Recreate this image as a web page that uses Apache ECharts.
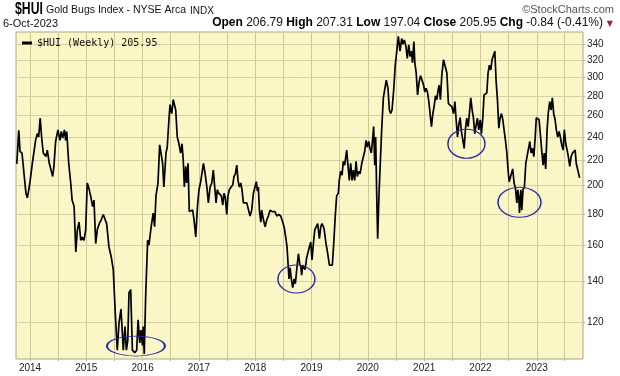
<!DOCTYPE html>
<html>
<head>
<meta charset="utf-8">
<script src="https://cdn.jsdelivr.net/npm/echarts@6/dist/echarts.min.js"></script>
<style>
  html, body { margin: 0; padding: 0; background: #fff; }
  #chart { width: 620px; height: 376px; }
</style>
</head>
<body>
<div id="chart"></div>
<script>
// weekly closes (approximate)
const dates = [
  '2013-10-07','2013-10-20','2013-10-28','2013-11-10','2013-11-23','2013-11-30','2013-12-06','2013-12-15','2013-12-24',
  '2014-01-01','2014-01-16','2014-01-27','2014-02-06','2014-02-17','2014-02-26','2014-03-08','2014-03-17','2014-03-28',
  '2014-04-06','2014-04-14','2014-04-23','2014-05-06','2014-05-15','2014-05-28','2014-06-05','2014-06-16','2014-07-01',
  '2014-07-14','2014-07-23','2014-08-01','2014-08-12','2014-08-20','2014-08-27','2014-09-09','2014-09-22','2014-10-01',
  '2014-10-14','2014-10-25','2014-11-04','2014-11-15','2014-11-26','2014-12-06','2014-12-17','2014-12-28',
  '2015-01-07','2015-01-18','2015-01-29','2015-02-11','2015-02-20','2015-03-03','2015-03-13','2015-03-26','2015-04-08',
  '2015-04-21','2015-04-30','2015-05-13','2015-05-28','2015-06-12','2015-06-25','2015-07-08','2015-07-21','2015-08-01',
  '2015-08-14','2015-08-29','2015-09-09','2015-09-18','2015-09-27','2015-10-05','2015-10-16','2015-10-27','2015-11-11',
  '2015-11-24','2015-12-03','2015-12-14','2015-12-22','2015-12-31',
  '2016-01-05','2016-01-12','2016-01-21','2016-02-03','2016-02-11','2016-02-26','2016-03-10','2016-03-19','2016-03-28',
  '2016-04-10','2016-04-21','2016-05-02','2016-05-10','2016-05-18','2016-06-01','2016-06-09','2016-06-20','2016-06-27',
  '2016-07-08','2016-07-18','2016-07-27','2016-08-03','2016-08-13','2016-08-24','2016-09-04','2016-09-13','2016-09-21',
  '2016-09-28','2016-10-07','2016-10-13','2016-10-22','2016-10-30','2016-11-10','2016-11-21','2016-11-30','2016-12-11',
  '2016-12-22',
  '2017-01-01','2017-01-12','2017-01-19','2017-01-30','2017-02-10','2017-02-21','2017-03-03','2017-03-14','2017-03-25',
  '2017-04-04','2017-04-13','2017-04-22','2017-04-30','2017-05-09','2017-05-18','2017-05-26','2017-06-04','2017-06-13',
  '2017-06-21','2017-06-30','2017-07-08','2017-07-17','2017-07-28','2017-08-08','2017-08-16','2017-08-25','2017-09-03',
  '2017-09-11','2017-09-20','2017-09-29','2017-10-07','2017-10-16','2017-10-27','2017-11-07','2017-11-17','2017-11-28',
  '2017-12-09','2017-12-20','2017-12-30',
  '2018-01-08','2018-01-15','2018-01-21','2018-01-28','2018-02-06','2018-02-12','2018-02-23','2018-03-06','2018-03-17',
  '2018-03-27','2018-04-07','2018-04-20','2018-04-28','2018-05-09','2018-05-20','2018-06-02','2018-06-15','2018-06-28',
  '2018-07-09','2018-07-19','2018-07-26','2018-08-02','2018-08-08','2018-08-15','2018-08-23','2018-09-01','2018-09-10',
  '2018-09-18','2018-09-27','2018-10-08','2018-10-17','2018-10-24','2018-10-29','2018-11-05','2018-11-09','2018-11-20',
  '2018-12-01','2018-12-10','2018-12-18','2018-12-27',
  '2019-01-04','2019-01-13','2019-01-22','2019-01-30','2019-02-10','2019-02-21','2019-03-02','2019-03-10','2019-03-23',
  '2019-04-05','2019-04-16','2019-04-27','2019-05-08','2019-05-16','2019-05-25','2019-06-04','2019-06-13','2019-06-24',
  '2019-06-30','2019-07-09','2019-07-18','2019-07-26','2019-08-04','2019-08-17','2019-08-26','2019-09-03','2019-09-12',
  '2019-09-21','2019-09-29','2019-10-08','2019-10-17','2019-10-25','2019-11-03','2019-11-12','2019-11-23','2019-12-03',
  '2019-12-12','2019-12-21','2019-12-29',
  '2020-01-07','2020-01-15','2020-01-24','2020-02-02','2020-02-08','2020-02-15','2020-02-21','2020-02-28','2020-03-05',
  '2020-03-14','2020-03-22','2020-03-31','2020-04-11','2020-04-20','2020-04-30','2020-05-11','2020-05-20','2020-05-28',
  '2020-06-06','2020-06-17','2020-06-27','2020-07-08','2020-07-17','2020-07-28','2020-08-08','2020-08-16','2020-08-25',
  '2020-09-05','2020-09-13','2020-09-23','2020-10-01','2020-10-10','2020-10-17','2020-10-26','2020-11-01','2020-11-10',
  '2020-11-19','2020-11-28','2020-12-08','2020-12-19','2020-12-28',
  '2021-01-05','2021-01-13','2021-01-22','2021-01-31','2021-02-08','2021-02-17','2021-02-26','2021-03-06','2021-03-15',
  '2021-03-24','2021-04-01','2021-04-08','2021-04-16','2021-04-25','2021-05-06','2021-05-17','2021-05-28','2021-06-07',
  '2021-06-18','2021-06-29','2021-07-10','2021-07-19','2021-07-27','2021-08-05','2021-08-14','2021-08-22','2021-08-30',
  '2021-09-09','2021-09-17','2021-09-25','2021-10-04','2021-10-13','2021-10-21','2021-10-30','2021-11-08','2021-11-16',
  '2021-11-25','2021-12-04','2021-12-12','2021-12-21','2021-12-30',
  '2022-01-07','2022-01-16','2022-01-24','2022-02-02','2022-02-11','2022-02-19','2022-02-28','2022-03-09','2022-03-17',
  '2022-03-26','2022-04-04','2022-04-12','2022-04-21','2022-04-30','2022-05-08','2022-05-17','2022-05-26','2022-06-03',
  '2022-06-12','2022-06-21','2022-06-29','2022-07-06','2022-07-12','2022-07-20','2022-07-29','2022-08-07','2022-08-16',
  '2022-08-25','2022-08-31','2022-09-07','2022-09-11','2022-09-20','2022-09-26','2022-10-04','2022-10-13','2022-10-22',
  '2022-10-30','2022-11-08','2022-11-17','2022-11-25','2022-12-04','2022-12-13','2022-12-22','2022-12-29',
  '2023-01-07','2023-01-16','2023-01-24','2023-02-02','2023-02-11','2023-02-19','2023-02-28','2023-03-09','2023-03-17',
  '2023-03-26','2023-04-04','2023-04-12','2023-04-21','2023-04-30','2023-05-08','2023-05-17','2023-05-26','2023-06-03',
  '2023-06-12','2023-06-21','2023-06-29','2023-07-08','2023-07-17','2023-07-25','2023-08-03','2023-08-12','2023-08-21',
  '2023-08-30','2023-09-07','2023-09-14','2023-10-06'
];
const closes = [
  217,246,227.5,226,209,208,194,191,197,
  203,217.5,216,237,243,240,257.5,240,226,
  227.5,223,228.5,217.5,219,207,215,236,246.5,
  237,245,239,246.5,237,245,217.5,202,189.5,
  185,156,169.5,174.5,163,165,163,169.5,
  202,198,192.5,185,189.5,161,169.5,173.5,176,
  179.5,180.5,173.5,159,153,146,124,108,119.5,
  126,108,118,108,112,134,135.5,108,107,
  108,121,111,116.5,110,
  118,106.5,132,163,160,171.5,180.5,171.5,192.5,
  202,233,224,217.5,199,226,231,256,271,
  262,276,278,265.5,240,234,226,234,220,
  199,215,202,217.5,181.5,180.5,182.5,176,165,
  185,
  197,203,202,217.5,209,199,187.5,199,202,
  212,199,187.5,197,194.5,195.5,192.5,186,194.5,
  191,179.5,192.5,197,199,200.5,207,209,216,
  204,199,202,197,187.5,188.5,187.5,187.5,178.5,
  182.5,194.5,199,
  203,196,199,182.5,174.5,182.5,176,171.5,176,
  178.5,182.5,181.5,180.5,181.5,178.5,179.5,178.5,174.5,
  170.5,164,159,149,141,147,141,136.5,141,
  138.5,146,155,149,147.5,143,148.5,149,146,
  153,156,159,162,
  151.5,161,169.5,168.5,173.5,164,171.5,173.5,170.5,
  161,155,148.5,149,148.5,161,178.5,192.5,194.5,
  204,211,208,219,216,228.5,215,204,217.5,
  204,212,204,219,207,211,209,217.5,219,
  227.5,237,231,
  236,230,226,239,249.5,216,240,192.5,164,
  194.5,217.5,246.5,278,280,297,288,265.5,262,
  265.5,286,314,332.5,350,331,347,340,345,
  336.5,322,339,324.5,331,317,343,317,305,
  281,294,302,300,291.5,
  284,288,284,274,262,249.5,262,269,280,
  276,286,291.5,276,302,320.5,318.5,305,272,
  271,269,262,274,256,240,252,258,245,
  237,230,246.5,257.5,249.5,262,278,265.5,258,
  243,251,257.5,246.5,256,
  243,257.5,281,283,283,305,314,308.5,320.5,
  322,331,297,276,248,257.5,262,256,246.5,
  237,226,212,203,205.5,204,213,202,198,
  187.5,197,191,180.5,197,182.5,197,199,217.5,
  223,221.5,236,226,230,223,240,258,
  258,256,243,228.5,216,226,213,246.5,263,
  274,265.5,278,262,256,246.5,240,245,240,
  233,228.5,246.5,234,228.5,223,215,223,226,
  224.5,228.5,217.5,205.95
];

// y-axis tick labels and x-axis year labels
const yTicks = [120, 140, 160, 180, 200, 220, 240, 260, 280, 300, 320, 340];
const yearLabels = ['2014', '2015', '2016', '2017', '2018', '2019', '2020', '2021', '2022', '2023'];

// circled lows (annotations)
const circleDates = ['2015-11-19', '2018-09-25', '2021-10-02', '2022-09-11'];
const circleValues = [109.7, 141, 234, 188];

const ts = d => Date.parse(d + 'T00:00:00Z');
const yearTicks = yearLabels.map(y => ts(y + '-01-01'));
const halfYearTicks = [];
yearLabels.forEach(y => { halfYearTicks.push(ts(y + '-01-01')); halfYearTicks.push(ts(y + '-07-01')); });
const lastClose = closes[closes.length - 1];

const chart = echarts.init(document.getElementById('chart'), null, { renderer: 'canvas' });

const sans = '"Liberation Sans", Arial, sans-serif';
const circleSizes = [[58, 20], [37, 28], [37, 29], [43, 30]];

const option = {
  animation: false,
  backgroundColor: '#ffffff',
  textStyle: { fontFamily: sans },
  grid: {
    left: 16, right: 37, top: 32, bottom: 17,
    show: true,
    backgroundColor: '#FAF6C6',
    borderColor: '#A9A68A',
    borderWidth: 1
  },
  legend: {
    left: 17, top: 33,
    itemWidth: 10, itemHeight: 3, itemGap: 4,
    icon: 'rect',
    data: ['$HUI (Weekly)'],
    formatter: name => name + ' ' + lastClose,
    textStyle: { fontFamily: '"DejaVu Sans Mono", monospace', fontSize: 10, color: '#111' }
  },
  xAxis: {
    type: 'value',
    min: ts('2013-10-02'),
    max: ts('2023-10-28'),
    axisLine: { show: false },
    axisTick: { show: true, customValues: halfYearTicks, length: 2, lineStyle: { color: '#B8B48E' } },
    axisLabel: {
      customValues: yearTicks,
      formatter: v => String(new Date(v).getUTCFullYear()),
      fontSize: 10, color: '#222', margin: 4
    },
    splitLine: { show: true, lineStyle: { color: '#CFC99A', width: 1 } }
  },
  yAxis: {
    type: 'log',
    logBase: 10,
    min: 104.5,
    max: 355.6,
    position: 'right',
    axisLine: { show: false },
    axisTick: { show: true, customValues: yTicks, length: 2, lineStyle: { color: '#B8B48E' } },
    axisLabel: {
      customValues: yTicks,
      formatter: v => String(Math.round(v)),
      fontSize: 10, color: '#222', margin: 4
    },
    splitLine: { show: true, lineStyle: { color: '#D6D0A2', width: 1 } }
  },
  series: [{
    name: '$HUI (Weekly)',
    type: 'line',
    showSymbol: false,
    color: '#000',
    lineStyle: { color: '#000', width: 1.7 },
    data: dates.map((d, i) => [ts(d), closes[i]]),
    markPoint: {
      symbol: 'path://M0,10a20,10 0 1,0 40,0a20,10 0 1,0 -40,0z',
      label: { show: false },
      itemStyle: { color: 'rgba(0,0,0,0)', borderColor: '#2a2aa6', borderWidth: 1.3 },
      data: circleDates.map((d, i) => ({ coord: [ts(d), circleValues[i]], symbolSize: circleSizes[i] }))
    }
  }],
  graphic: [
    { type: 'text', x: 15, y: 1, scaleX: 0.72, style: { text: '$HUI', font: 'bold 17px ' + sans, fill: '#000' } },
    { type: 'text', x: 46, y: 5, style: { text: 'Gold Bugs Index - NYSE Arca', font: '10.5px ' + sans, fill: '#111' } },
    { type: 'text', x: 190, y: 6, style: { text: 'INDX', font: '10px ' + sans, fill: '#111' } },
    { type: 'text', right: 6, top: 4, style: { text: '©StockCharts.com', font: '11px ' + sans, fill: '#555' } },
    { type: 'text', x: 3, y: 18, style: { text: '6-Oct-2023', font: '11px ' + sans, fill: '#111' } },
    {
      type: 'text', right: 17, top: 17,
      style: {
        text: '{b|Open} 206.79 {b|High} 207.31 {b|Low} 197.04 {b|Close} 205.95 {b|Chg} -0.84 (-0.41%)',
        font: '12px ' + sans, fill: '#111',
        rich: { b: { fontWeight: 'bold', fontSize: 12, fontFamily: sans, fill: '#000' } }
      }
    },
    { type: 'text', right: 7, top: 20, style: { text: '▼', font: '8px "DejaVu Sans"', fill: '#9C1E40' } }
  ]
};

chart.setOption(option);
</script>
</body>
</html>
